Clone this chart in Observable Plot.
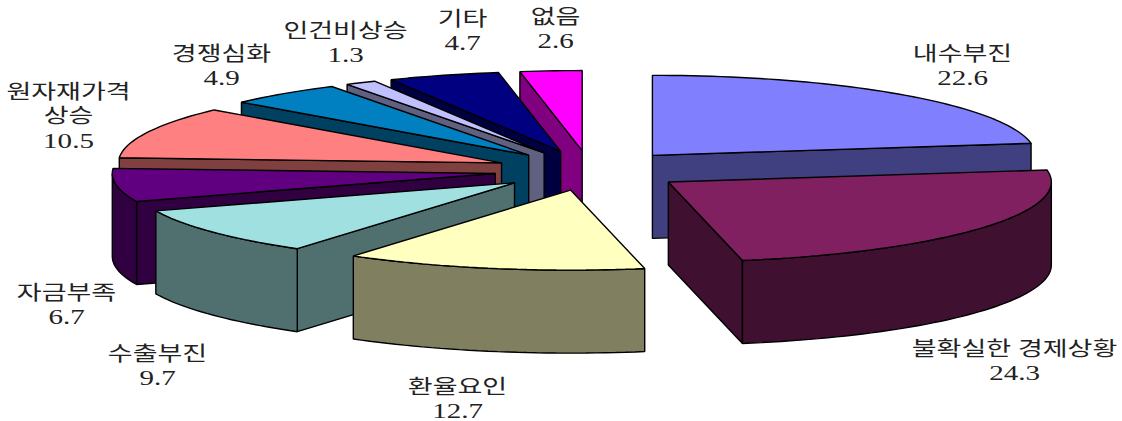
<!DOCTYPE html>
<html><head><meta charset="utf-8">
<script src="https://cdn.jsdelivr.net/npm/d3@7"></script>
<script src="https://cdn.jsdelivr.net/npm/@observablehq/plot@0.6"></script>
<style>html,body{margin:0;padding:0;background:#fff}svg{display:block}</style>
</head><body><div id="c"></div>
<script>
const categories = ["내수부진","불확실한 경제상황","환율요인","수출부진","자금부족","원자재가격\n상승","경쟁심화","인건비상승","기타","없음"];
const values = [22.6,24.3,12.7,9.7,6.7,10.5,4.9,1.3,4.7,2.6];
const topColors = ["#8080FF","#802060","#FFFFC0","#A0E0E0","#600080","#FF8080","#0080C0","#C0C0FF","#000080","#FF00FF"];
const wallColors = ["#404080","#401030","#808060","#507070","#300040","#804040","#004060","#606080","#000040","#800080"];
// label centres of the first text line, in the chart's layout space
const labelX = [962,1014,457,157,66,68,221,345,462,555];
const labelY = [54,349,387,354,293,92,54,31,19,17];
const lineGap = 24.5;

const W = 1122, H = 421;
const cx = 589.5, cy = 170, rx = 383, ry = 80, depth = 83, explode = 0.25;
const drawOrder = [0,9,8,7,6,5,4,3,2,1];

const total = d3.sum(values);
const cum = d3.cumsum(values);
const slices = values.map((v,i) => {
  const a0 = (cum[i]-v)/total*360, a1 = cum[i]/total*360, m = (a0+a1)/2;
  const ax = cx + explode*rx*Math.sin(m*Math.PI/180);
  const ay = cy - explode*ry*Math.cos(m*Math.PI/180);
  const at = (a,dy=0) => [ax+rx*Math.sin(a*Math.PI/180), ay-ry*Math.cos(a*Math.PI/180)+dy];
  return {i,a0,a1,ax,ay,at};
});
const arc = (s,a,b,dy=0) => { const n=Math.max(2,Math.ceil((b-a)/1.5)); return d3.range(n+1).map(k=>s.at(a+(b-a)*k/n,dy)); };

const polys = [];
let pid = 0;
const add = (pts,fill) => { pid++; pts.forEach(p=>polys.push({id:pid,x:p[0],y:p[1],fill})); };
for (const i of drawOrder) {
  const s = slices[i], wall = wallColors[i];
  const radial = a => { const e=s.at(a), f=s.at(a,depth); add([[s.ax,s.ay],e,f,[s.ax,s.ay+depth]],wall); };
  if (s.a1 < 180) radial(s.a1);
  if (s.a0 > 180) radial(s.a0);
  const lo = Math.max(s.a0,90), hi = Math.min(s.a1,270);
  if (hi > lo) add([...arc(s,lo,hi),...arc(s,lo,hi,depth).reverse()],wall);
  add([[s.ax,s.ay],...arc(s,s.a0,s.a1)],topColors[i]);
}

const rows = categories.flatMap((c,i) => [...c.split("\n"), String(values[i])].map((t,k) => ({t,x:labelX[i],y:labelY[i]+k*lineGap})));

const chart = Plot.plot({
  width: W, height: H, margin: 0,
  x: {domain:[0,W], range:[0,W], axis:null},
  y: {domain:[0,H], range:[0,H], axis:null},
  style: {background:"#fff"},
  marks: [
    Plot.line(polys,{x:"x",y:"y",z:"id",fill:"fill",stroke:"#000",strokeWidth:1.4,curve:"linear-closed",strokeLinejoin:"miter"}),
    Plot.text(rows,{x:"x",y:"y",text:"t",fontSize:20,fill:"#222",fontFamily:"'Liberation Serif','Noto Sans CJK KR',serif",className:"lbl"})
  ]
});
document.getElementById("c").appendChild(chart);
// reference glyphs are stretched horizontally
chart.querySelectorAll("g.lbl text").forEach(t => {
  const len = t.getComputedTextLength();
  const stretch = /^[\d.]+$/.test(t.textContent) ? 1.45 : 1.35;
  t.setAttribute("textLength", len*stretch);
  t.setAttribute("lengthAdjust","spacingAndGlyphs");
});
</script></body></html>
